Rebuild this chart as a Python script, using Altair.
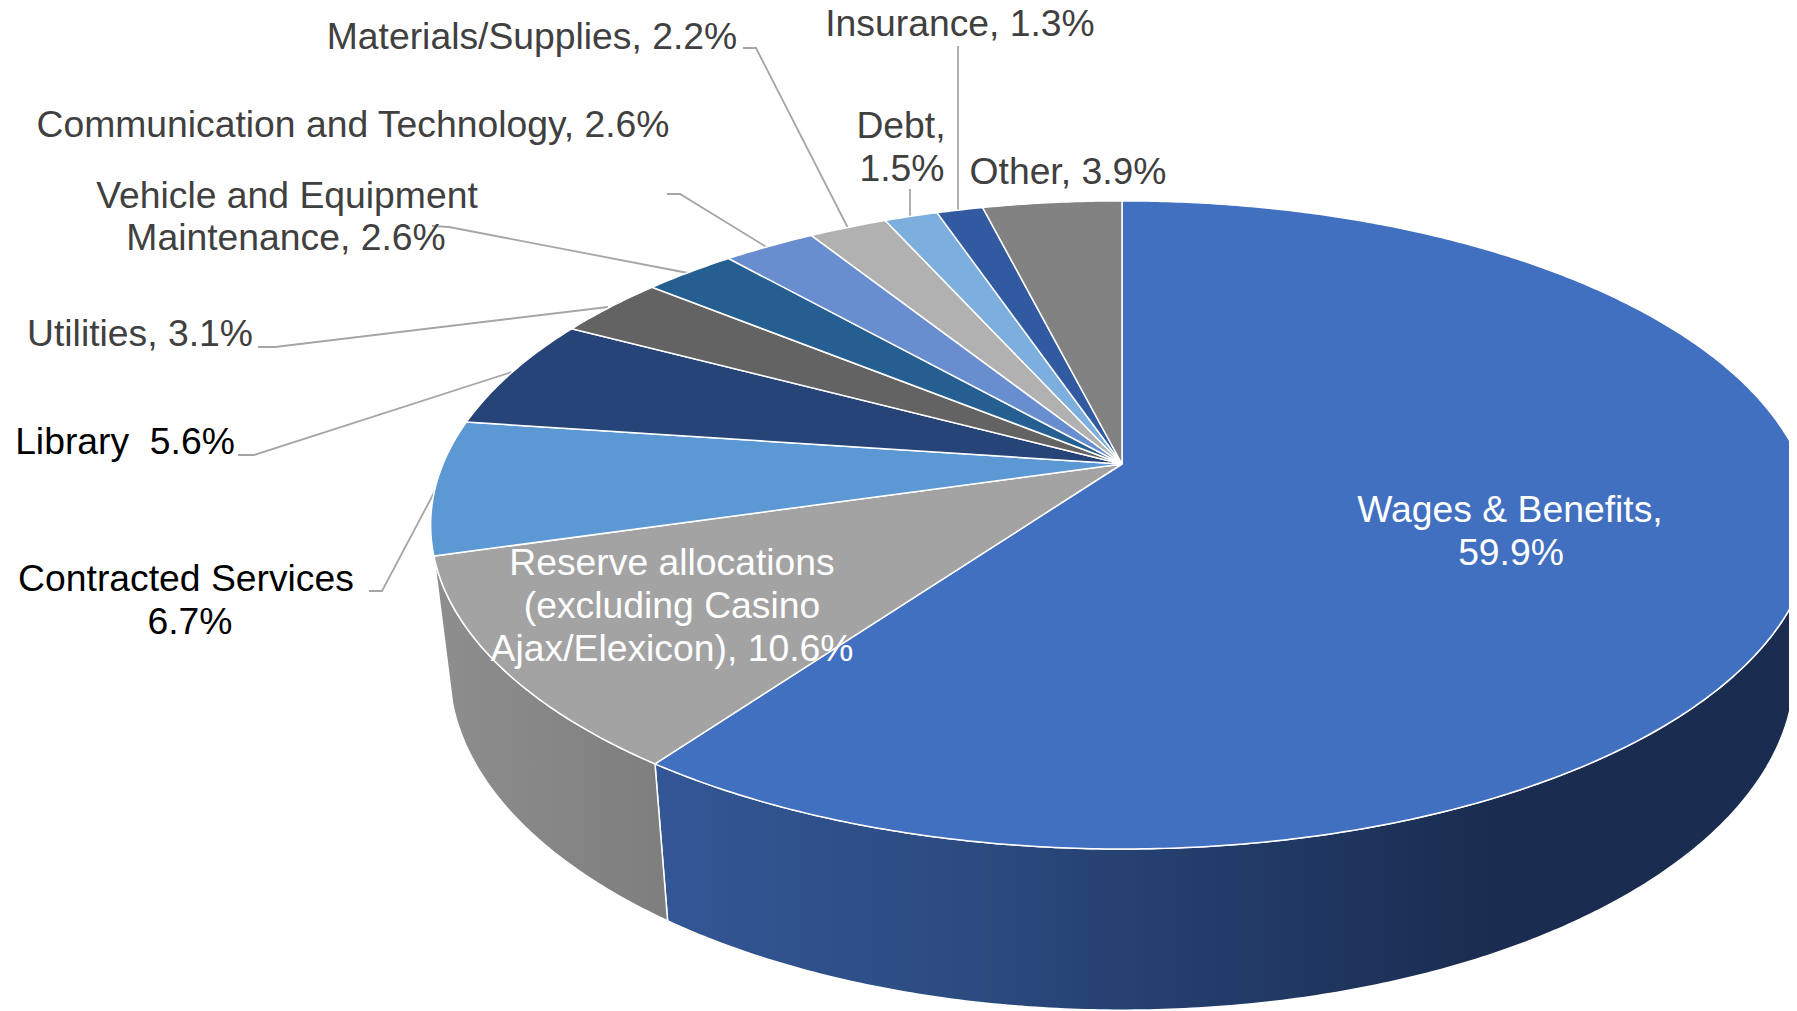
import math
import altair as alt

# Chart values
names = ["Wages & Benefits", "Reserve allocations", "Contracted Services", "Library", "Utilities",
         "Vehicle and Equipment Maintenance", "Communication and Technology", "Materials/Supplies",
         "Debt", "Insurance", "Other"]
shares = [59.9, 10.6, 6.7, 5.6, 3.1, 2.6, 2.6, 2.2, 1.5, 1.3, 3.9]
colors = ["#4270C0", "#A3A3A3", "#5B98D4", "#264478", "#636363", "#255E91", "#698ED0", "#B1B1B1",
          "#7CAFDD", "#325AA0", "#828282"]

# Label lines: text, centre x, centre y, colour (reference pixels)
label_text = ["Materials/Supplies, 2.2%", "Insurance, 1.3%", "Communication and Technology, 2.6%",
              "Vehicle and Equipment", "Maintenance, 2.6%", "Utilities, 3.1%", "Library\u00a0\u00a05.6%",
              "Contracted Services", "6.7%", "Debt,", "1.5%", "Other, 3.9%", "Wages & Benefits,", "59.9%",
              "Reserve allocations", "(excluding Casino", "Ajax/Elexicon), 10.6%"]
label_x = [532, 960, 353, 287, 286, 140, 125, 186, 190, 901, 902, 1068, 1510, 1511, 672, 672, 672]
label_y = [38, 25, 126, 197, 239, 335, 443, 580, 623, 127, 170, 173, 511, 554, 564, 607, 650]
label_color = ["#404040"] * 6 + ["#000000"] * 3 + ["#404040"] * 3 + ["#FFFFFF"] * 5

# Leader lines (reference pixels)
leaders = [
    [(743, 48), (756, 48), (848, 228)],
    [(667, 194), (680, 194), (768, 248)],
    [(432, 226), (449, 227), (688, 273)],
    [(258, 347), (275, 347), (608, 307)],
    [(238, 455), (254, 455), (512, 372)],
    [(369, 591), (382, 591), (436, 489)],
    [(910, 189), (910, 216)],
    [(958, 46), (958, 210)],
]

# Perspective of the disc
CX, CY, A, B, P = 1122, 464, 312.6, 679, 0.188
S, DEPTH, DEPTH_Y, DEPTH_SLOPE = 0.973, 157, 765, 0.05


def top(deg):
    t = math.radians(deg)
    d = 1 + P * math.cos(t)
    return [CX + B * math.sin(t) / d, CY - A * math.cos(t) / d]


def bottom(deg):
    x, y = top(deg)
    return [CX + S * (x - CX), y + DEPTH + DEPTH_SLOPE * (y - DEPTH_Y)]


def arc(f, a0, a1):
    n = max(2, int(abs(a1 - a0) * 2))
    return [f(a0 + (a1 - a0) * i / n) for i in range(n + 1)]


def polygon(points, **props):
    return {"type": "Feature", "properties": props,
            "geometry": {"type": "Polygon", "coordinates": [points + [points[0]]]}}


edges = [0.0]
for s in shares:
    edges.append(edges[-1] + s * 3.6)

slices = [polygon([[CX, CY]] + arc(top, edges[i], edges[i + 1]), color=colors[i]) for i in range(len(shares))]
side_wages = polygon(arc(top, 95, edges[1]) + arc(bottom, edges[1], 95))
side_reserve = polygon(arc(top, edges[1], edges[2]) + arc(bottom, edges[2], edges[1]))
leader_features = [{"type": "Feature", "properties": {},
                    "geometry": {"type": "LineString", "coordinates": [list(p) for p in l]}} for l in leaders]

proj = dict(type="identity", scale=1, translate=[-8, -8])

leader_layer = alt.Chart(alt.Data(values=leader_features)).mark_geoshape(
    filled=False, stroke="#A6A6A6", strokeWidth=1.8).project(**proj)

grad_wages = alt.Gradient(gradient="linear", x1=0, x2=1, y1=0, y2=0, stops=[
    alt.GradientStop(offset=0, color="#335796"),
    alt.GradientStop(offset=0.25, color="#2C4C82"),
    alt.GradientStop(offset=0.5, color="#223B68"),
    alt.GradientStop(offset=0.72, color="#1A2D50"),
    alt.GradientStop(offset=1, color="#1A2D50")])
grad_reserve = alt.Gradient(gradient="linear", x1=0, x2=1, y1=0, y2=0, stops=[
    alt.GradientStop(offset=0, color="#8E8E8E"),
    alt.GradientStop(offset=1, color="#7E7E7E")])

side1 = alt.Chart(alt.Data(values=[side_wages])).mark_geoshape(
    fill=grad_wages, stroke="#FFFFFF", strokeWidth=1.5).project(**proj)
side2 = alt.Chart(alt.Data(values=[side_reserve])).mark_geoshape(
    fill=grad_reserve, stroke="#FFFFFF", strokeWidth=1.5).project(**proj)

slice_layer = alt.Chart(alt.Data(values=slices)).mark_geoshape(
    stroke="#FFFFFF", strokeWidth=1.5).encode(
    fill=alt.Fill("properties.color:N", scale=None)).project(**proj)

label_rows = [{"t": t, "lx": x, "ly": y, "c": c}
              for t, x, y, c in zip(label_text, label_x, label_y, label_color)]
text_layer = alt.Chart(alt.Data(values=label_rows)).mark_text(
    font="Liberation Sans", fontSize=37.3, align="center", baseline="middle").encode(
    longitude="lx:Q", latitude="ly:Q", text="t:N",
    color=alt.Color("c:N", scale=None)).project(**proj)

chart = alt.layer(leader_layer, side1, side2, slice_layer, text_layer).properties(
    width=1781, height=1003, padding=0,
    autosize=alt.AutoSizeParams(type="none"),
    background="#FFFFFF").configure_view(stroke=None)

chart.save("out.html", embed_options={"renderer": "svg", "actions": False})
